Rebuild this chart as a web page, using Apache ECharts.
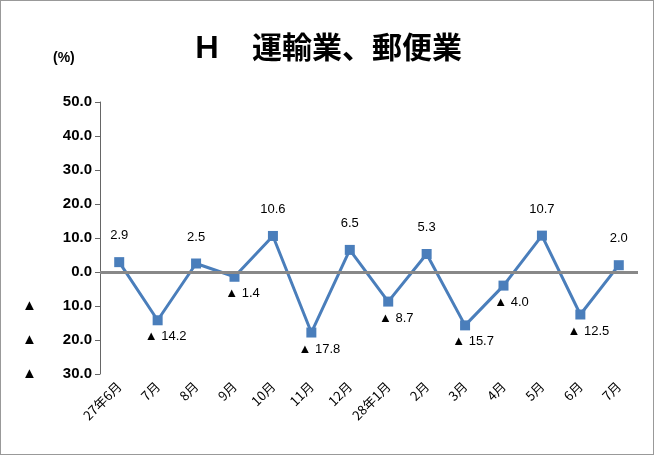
<!DOCTYPE html><html><head><meta charset="utf-8"><script src="https://cdn.jsdelivr.net/npm/echarts@6/dist/echarts.min.js"></script>
<style>body{margin:0}#c{width:652px;height:453px;border:1px solid #999}</style></head><body><div id="c"></div><script>
const categories=['27年6月','7月','8月','9月','10月','11月','12月','28年1月','2月','3月','4月','5月','6月','7月'];
const values=[2.9,-14.2,2.5,-1.4,10.6,-17.8,6.5,-8.7,5.3,-15.7,-4.0,10.7,-12.5,2.0];
const fmt=v=>v<0?'▲ '+Math.abs(v).toFixed(1):v.toFixed(1);
const c=echarts.init(document.getElementById('c'));
c.setOption({
 title:{text:'Ｈ　運輸業、郵便業',left:'center',top:26,textStyle:{fontSize:30,fontWeight:'bold',color:'#000',fontFamily:'Noto Sans CJK JP'}},
 graphic:[{type:'text',left:52,top:50,style:{text:'(%)',font:'bold 14px Liberation Sans',fill:'#000'}}],
 grid:{left:99,right:15,top:101,bottom:80},
 xAxis:{type:'category',data:categories,axisLine:{show:false},axisTick:{show:false},
  axisLabel:{rotate:45,interval:0,fontSize:13,color:'#000',fontFamily:'Noto Sans CJK JP',margin:10}},
 yAxis:{type:'value',min:-30,max:50,interval:10,splitLine:{show:false},
  axisLine:{show:true,lineStyle:{color:'#666'}},axisTick:{show:true,lineStyle:{color:'#666'}},
  axisLabel:{color:'#000',fontSize:15,fontWeight:'bold',fontFamily:'Liberation Sans',margin:8,
   formatter:v=>v<0?'{a|▲}{b|'+Math.abs(v).toFixed(1)+'}':'{b|'+v.toFixed(1)+'}',
   rich:{a:{width:30,align:'left',fontSize:15,color:'#000'},b:{width:40,align:'right',fontSize:15,fontWeight:'bold',color:'#000'}}}},
 series:[{type:'line',data:values.map(v=>({value:v,label:v<0?{position:'bottom',offset:[8,0]}:{position:'top',offset:[0,-10]}})),
  symbol:'rect',symbolSize:10,lineStyle:{color:'#4a7ebb',width:3},itemStyle:{color:'#4a7ebb'},
  label:{show:true,fontSize:13,color:'#000',formatter:p=>fmt(p.value)},
  markLine:{silent:true,symbol:'none',label:{show:false},lineStyle:{color:'#888',width:3,type:'solid'},data:[{yAxis:0}]}}]
});
</script></body></html>
